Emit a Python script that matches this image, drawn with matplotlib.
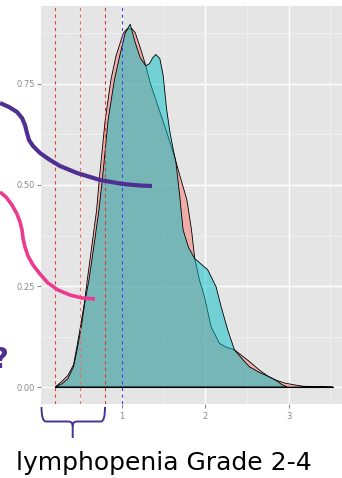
import numpy as np
import matplotlib
matplotlib.use("Agg")
import matplotlib.pyplot as plt
from matplotlib.path import Path
from matplotlib.patches import PathPatch

# density of group 1 (pink)
pink_x = [0.20, 0.28, 0.35, 0.42, 0.47, 0.52, 0.555, 0.585, 0.64, 0.697, 0.728, 0.80, 0.868, 0.93,
          1.016, 1.06, 1.12, 1.16, 1.22, 1.287, 1.335, 1.415, 1.495, 1.575, 1.635, 1.70, 1.78, 1.835,
          1.874, 1.93, 1.99, 2.07, 2.17, 2.26, 2.35, 2.45, 2.53, 2.65, 2.75, 2.85, 2.95, 3.05, 3.17,
          3.30, 3.53]
pink_y = [0.000, 0.014, 0.028, 0.055, 0.110, 0.170, 0.215, 0.265, 0.350, 0.438, 0.512, 0.661, 0.760, 0.820,
          0.875, 0.886, 0.887, 0.877, 0.840, 0.795, 0.756, 0.706, 0.657, 0.607, 0.567, 0.520, 0.463, 0.389,
          0.318, 0.265, 0.224, 0.149, 0.108, 0.098, 0.092, 0.076, 0.063, 0.042, 0.027, 0.017, 0.010, 0.006, 0.002,
          0.001, 0.000]

# density of group 2 (cyan)
cyan_x = [0.20, 0.28, 0.35, 0.42, 0.47, 0.52, 0.56, 0.605, 0.665, 0.725, 0.765, 0.835, 0.91, 0.98,
          1.04, 1.10, 1.156, 1.22, 1.287, 1.33, 1.37, 1.407, 1.455, 1.495, 1.515, 1.535, 1.575, 1.614,
          1.647, 1.69, 1.734, 1.80, 1.874, 2.03, 2.13, 2.19, 2.27, 2.35, 2.45, 2.53, 2.65, 2.75, 2.85,
          2.92, 2.98]
cyan_y = [0.000, 0.008, 0.020, 0.050, 0.100, 0.158, 0.215, 0.265, 0.350, 0.438, 0.512, 0.661, 0.760, 0.825,
          0.876, 0.898, 0.855, 0.815, 0.795, 0.800, 0.815, 0.823, 0.813, 0.772, 0.731, 0.690, 0.632, 0.590,
          0.558, 0.480, 0.389, 0.345, 0.318, 0.290, 0.248, 0.199, 0.141, 0.092, 0.068, 0.050, 0.036, 0.027, 0.016,
          0.006, 0.000]

# reference lines
red_lines = [0.2, 0.5, 0.8]
red_colors = ['#E2423C', '#F26A66', '#DC3A36']
blue_line = 1.0

x_major = [1, 2, 3]
x_minor = [0.5, 1.5, 2.5, 3.5]
y_major = [0.0, 0.25, 0.5, 0.75]
y_labels = ['0.00', '0.25', '0.50', '0.75']
y_minor = [0.125, 0.375, 0.625, 0.875]

label_text = 'lymphopenia Grade 2-4'

# hand-drawn annotations, in picture pixels
purple_px = [0, 9, 17, 22, 25, 27, 29, 33, 40, 50, 60, 77, 100, 123, 140, 152]
purple_py = [103, 107, 112, 118, 125, 133, 140, 146, 153, 160, 166, 173, 180, 184, 185.5, 186]
pinkline_px = [0, 6, 12, 17, 20, 22, 23, 25, 28, 33, 40, 48, 58, 70, 82, 95]
pinkline_py = [192, 197, 205, 214, 222, 230, 238, 247, 256, 265, 274, 283, 290, 295, 298, 299]

W, H = 342, 478
fig = plt.figure(figsize=(W / 100, H / 100), dpi=100)
fig.patch.set_facecolor('white')

left, right, top, bottom = 41, 347, 6, 404
ax = fig.add_axes([left / W, 1 - bottom / H, (right - left) / W, (bottom - top) / H])
ax.set_facecolor('#E5E5E5')
ax.set_xlim(0.03, 3.70)
ax.set_ylim(-0.042, 0.943)

ax.set_xticks(x_major)
ax.set_xticks(x_minor, minor=True)
ax.set_yticks(y_major)
ax.set_yticklabels(y_labels)
ax.set_yticks(y_minor, minor=True)
ax.grid(which='major', color='white', lw=1.0)
ax.grid(which='minor', color='#F2F2F2', lw=0.6)
ax.set_axisbelow(True)
for s in ax.spines.values():
    s.set_visible(False)
ax.tick_params(which='major', length=3, width=0.8, color='#8A8A8A',
               labelsize=6, labelcolor='#8A8A8A', pad=1.5)
ax.tick_params(axis='x', pad=2.5)
ax.tick_params(which='minor', length=0)

ax.fill(pink_x, pink_y, fc=(0.973, 0.463, 0.427, 0.5), ec='black', lw=0.6, zorder=2)
ax.fill(cyan_x, cyan_y, fc=(0.0, 0.749, 0.769, 0.5), ec='black', lw=0.6, zorder=3)
ax.plot([pink_x[0], pink_x[-1]], [0, 0], color='black', lw=0.8, zorder=4)

for xv, c in zip(red_lines, red_colors):
    ax.axvline(xv, color=c, lw=0.8, ls=(0, (3, 3)), zorder=5)
ax.axvline(blue_line, color='#4040F0', lw=0.8, ls=(0, (3, 3)), zorder=5)

# overlay for the annotations
ov = fig.add_axes([0, 0, 1, 1], facecolor='none')
ov.set_xlim(0, W)
ov.set_ylim(H, 0)
ov.axis('off')

ov.plot(purple_px, purple_py, color='#4F2F92', lw=3.0, solid_capstyle='butt')
ov.plot(pinkline_px, pinkline_py, color='#EC3A8E', lw=2.6, solid_capstyle='butt')
ov.text(9, 368, '?', color='#4F2F92', fontsize=21, fontweight='bold', ha='right', va='baseline')

# curly brace under the axis
verts = [(41.5, 407), (41.5, 421.5), (46, 421.5), (68, 421.5), (72.7, 421.5), (72.7, 426), (72.7, 438),
         (72.7, 426), (72.7, 421.5), (77, 421.5), (101, 421.5), (105, 421.5), (105, 407)]
codes = [Path.MOVETO, Path.CURVE3, Path.CURVE3, Path.LINETO, Path.CURVE3, Path.CURVE3, Path.LINETO,
         Path.MOVETO, Path.CURVE3, Path.CURVE3, Path.LINETO, Path.CURVE3, Path.CURVE3]
ov.add_patch(PathPatch(Path(verts, codes), fc='none', ec='#4B3295', lw=1.4))

ov.text(164, 470, label_text, fontsize=18, color='black', ha='center', va='baseline')

fig.savefig('out.png', dpi=100)
